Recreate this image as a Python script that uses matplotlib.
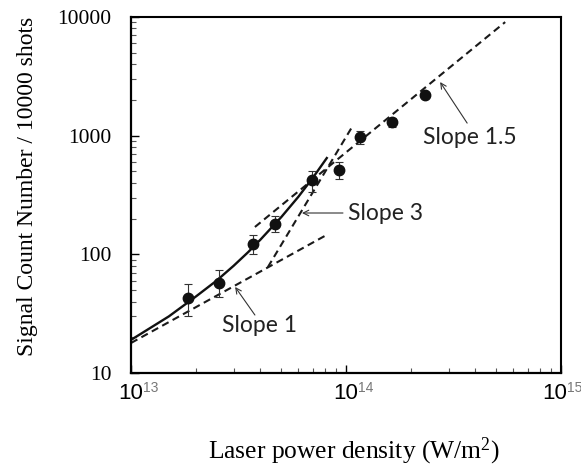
import numpy as np
import matplotlib
matplotlib.use("Agg")
import matplotlib.pyplot as plt
from matplotlib.ticker import LogLocator, NullFormatter, FixedLocator

# ============================================================
#  Data
# ============================================================
power = [1.84e13, 2.56e13, 3.69e13, 4.68e13, 6.95e13, 9.27e13, 1.16e14, 1.64e14, 2.33e14]
counts = [43, 57, 122, 180, 423, 513, 973, 1303, 2196]
counts_hi = [56, 74, 145, 210, 503, 600, 1094, 1420, 2280]
counts_lo = [30, 44, 101, 154, 335, 430, 849, 1190, 2110]

# fitted curve (solid)
fit_x = [1.0e13, 1.5e13, 2.0e13, 2.5e13, 3.0e13, 3.5e13, 4.0e13, 5.0e13, 6.0e13, 7.0e13, 8.2e13]
fit_y = [19, 30, 44, 60, 80, 104, 133, 206, 305, 440, 660]

# guide lines (dashed)
slope1_x = [1.0e13, 8.2e13]
slope1_y = [17.9, 147]
slope3_x = [4.33e13, 1.08e14]
slope3_y = [78, 1228]
slope15_x = [3.77e13, 5.5e14]
slope15_y = [170, 9060]

x_decades = [1e13, 1e14, 1e15]
x_exponents = ["13", "14", "15"]
x_label_shift = [0, 0, -6]   # px, last label pulled in so it stays on the canvas

# ============================================================
#  PLOT
# ============================================================
fig = plt.figure(figsize=(5.81, 4.68), dpi=100)
ax = fig.add_axes([131/581, 1 - 373/468, 430/581, 356/468])

serif = "Liberation Serif"
sans = "Liberation Sans"
note_font = "Lato"

dash = (0, (3.5, 2.2))
ax.plot(slope1_x, slope1_y, color="#1a1a1a", lw=1.5, ls=dash)
ax.plot(slope3_x, slope3_y, color="#1a1a1a", lw=1.5, ls=dash)
ax.plot(slope15_x, slope15_y, color="#1a1a1a", lw=1.5, ls=dash)
ax.plot(fit_x, fit_y, color="#111111", lw=1.7, solid_capstyle="butt")

yerr = [np.array(counts) - np.array(counts_lo), np.array(counts_hi) - np.array(counts)]
ax.errorbar(power, counts, yerr=yerr, fmt="o", color="#111111", ms=7.5,
            ecolor="#333333", elinewidth=0.8, capsize=3, capthick=0.8, zorder=5)

# annotations
arrow = dict(arrowstyle="->", lw=0.8, color="#333333", shrinkA=0, shrinkB=0)
ax.annotate("", xy=(2.74e14, 2831), xytext=(3.66e14, 1276), arrowprops=arrow)
ax.annotate("", xy=(6.24e13, 223), xytext=(9.68e13, 223), arrowprops=arrow)
ax.annotate("", xy=(3.05e13, 53.1), xytext=(3.77e13, 30.8), arrowprops=arrow)
ax.text(3.78e14, 973, "Slope 1.5", family=note_font, fontsize=16.5, color="#222222",
        ha="center", va="center")
ax.text(1.02e14, 223, "Slope 3", family=note_font, fontsize=16.5, color="#222222",
        ha="left", va="center")
ax.text(3.98e13, 24.9, "Slope 1", family=note_font, fontsize=16.5, color="#222222",
        ha="center", va="center")

ax.set_xscale("log")
ax.set_yscale("log")
ax.set_xlim(1e13, 1e15)
ax.set_ylim(10, 10000)

for side in ["top", "right"]:
    ax.spines[side].set_linewidth(1.5)
for side in ["left", "bottom"]:
    ax.spines[side].set_linewidth(1.6)

ax.yaxis.set_major_locator(FixedLocator([10, 100, 1000, 10000]))
ax.yaxis.set_minor_locator(LogLocator(base=10, subs=np.arange(2, 10)))
ax.yaxis.set_minor_formatter(NullFormatter())
ax.set_yticklabels(["10", "100", "1000", "10000"])
ax.xaxis.set_major_locator(FixedLocator(x_decades))
ax.xaxis.set_minor_locator(LogLocator(base=10, subs=np.arange(2, 10)))
ax.xaxis.set_minor_formatter(NullFormatter())
ax.set_xticklabels([])

ax.tick_params(which="both", direction="in", top=False, right=False)
ax.tick_params(axis="y", which="major", length=5.5, width=1.0, pad=14, labelsize=15.5)
ax.tick_params(axis="y", which="minor", length=3.5, width=0.8, color="#555555")
ax.tick_params(axis="x", which="major", length=6, width=1.0)
ax.tick_params(axis="x", which="minor", length=3.5, width=0.8, color="#555555")
for lab in ax.get_yticklabels():
    lab.set_family(serif)

# x tick labels: "10" plus grey superscript
pt = 72 / 100.0
for xv, ex, sh in zip(x_decades, x_exponents, x_label_shift):
    ax.annotate("10", xy=(xv, 0), xycoords=("data", "axes fraction"),
                xytext=((12 + sh) * pt, -7), textcoords="offset points", family=sans,
                fontsize=16, ha="right", va="top", annotation_clip=False)
    ax.annotate(ex, xy=(xv, 0), xycoords=("data", "axes fraction"),
                xytext=((12 + sh) * pt, -5.5), textcoords="offset points", family=sans,
                fontsize=10, color="#777777", ha="left", va="top",
                annotation_clip=False)

fig.text(28/581, 1 - 186/468, "Signal Count Number / 10000 shots", family=serif,
         fontsize=17.0, rotation=90, ha="center", va="center")
fig.text(354/581, 1 - 451/468, "Laser power density (W/m$\\mathregular{^2}$)",
         family=serif, fontsize=18.4, ha="center", va="center")

fig.savefig("out.png", dpi=100)
